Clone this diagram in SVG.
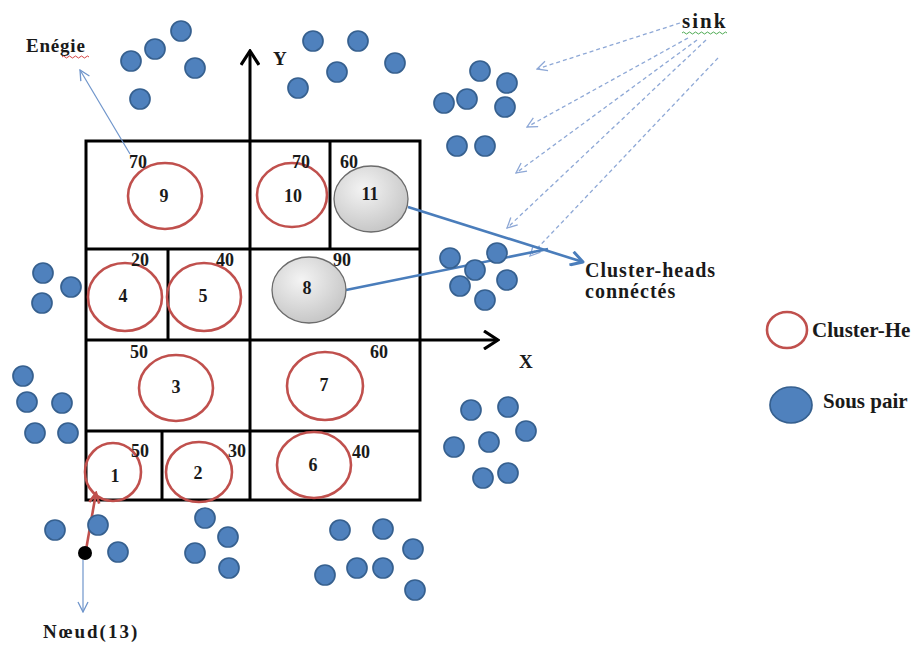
<svg xmlns="http://www.w3.org/2000/svg" width="915" height="645" viewBox="0 0 915 645">
  <style>
    .lbl { font-family: "Liberation Serif", "Times New Roman", serif; font-weight: bold; fill: #1a1a1a; }
    .num { font-size: 18px; text-anchor: middle; }
    .val { font-size: 18px; }
    .ch { fill: none; stroke: #C0504D; stroke-width: 2.6; }
    .gray { fill: url(#grayFill); stroke: #6b6b6b; stroke-width: 1.3; }
    .dot { fill: #4F81BD; stroke: #36608F; stroke-width: 1.7; }
    .grid { fill: none; stroke: #000; stroke-width: 3; }
    .thin { fill: none; stroke: #6F95CB; stroke-width: 1.2; }
    .dash { fill: none; stroke: #8EA8D6; stroke-width: 1.3; stroke-dasharray: 4 3; }
    .link { fill: none; stroke: #4A7DBB; stroke-width: 2.6; }
  </style>
  <defs>
    <radialGradient id="grayFill" cx="40%" cy="35%" r="70%">
      <stop offset="0" stop-color="#f4f4f4"/>
      <stop offset="1" stop-color="#c4c4c4"/>
    </radialGradient>
    <marker id="openThin" viewBox="0 0 12 12" refX="11" refY="6" markerWidth="12" markerHeight="12" markerUnits="userSpaceOnUse" orient="auto">
      <path d="M1,1 L11,6 L1,11" fill="none" stroke="#6F95CB" stroke-width="1.3"/>
    </marker>
    <marker id="openDash" viewBox="0 0 12 12" refX="11" refY="6" markerWidth="12" markerHeight="12" markerUnits="userSpaceOnUse" orient="auto">
      <path d="M1,1 L11,6 L1,11" fill="none" stroke="#8EA8D6" stroke-width="1.3"/>
    </marker>
    <marker id="openBlue" viewBox="0 0 16 16" refX="14" refY="8" markerWidth="16" markerHeight="16" markerUnits="userSpaceOnUse" orient="auto">
      <path d="M2,1 L14,8 L2,15" fill="none" stroke="#4A7DBB" stroke-width="3" stroke-linejoin="round"/>
    </marker>
    <marker id="openRed" viewBox="0 0 14 14" refX="12" refY="7" markerWidth="14" markerHeight="14" markerUnits="userSpaceOnUse" orient="auto">
      <path d="M2,2 L12,7 L2,12" fill="none" stroke="#C0504D" stroke-width="2.6"/>
    </marker>
    <marker id="axisHead" viewBox="0 0 18 20" refX="16" refY="10" markerWidth="18" markerHeight="20" markerUnits="userSpaceOnUse" orient="auto">
      <path d="M2,1 L16,10 L2,19" fill="none" stroke="#000" stroke-width="3.2" stroke-linejoin="miter"/>
    </marker>
  </defs>

  <!-- zone grid and axes -->
  <g id="grid">
    <rect class="grid" x="86" y="141" width="334" height="359"/>
    <line class="grid" x1="86" y1="249" x2="420" y2="249"/>
    <line class="grid" x1="86" y1="431" x2="420" y2="431"/>
    <line class="grid" x1="330" y1="141" x2="330" y2="249"/>
    <line class="grid" x1="168" y1="249" x2="168" y2="340"/>
    <line class="grid" x1="162" y1="431" x2="162" y2="500"/>
    <line class="grid" x1="250" y1="500" x2="250" y2="51" marker-end="url(#axisHead)"/>
    <line class="grid" x1="86" y1="340" x2="498" y2="340" marker-end="url(#axisHead)"/>
    <text class="lbl" x="273" y="65" font-size="19">Y</text>
    <text class="lbl" x="519" y="368" font-size="19">X</text>
  </g>

  <!-- connectors -->
  <g id="connectors">
    <line class="thin" x1="130" y1="154" x2="80" y2="70" marker-end="url(#openThin)"/>
    <line class="dash" x1="680" y1="23" x2="537" y2="69" marker-end="url(#openDash)"/>
    <line class="dash" x1="688" y1="38" x2="527" y2="127" marker-end="url(#openDash)"/>
    <line class="dash" x1="697" y1="40" x2="516" y2="173" marker-end="url(#openDash)"/>
    <line class="dash" x1="706" y1="40" x2="507" y2="228" marker-end="url(#openDash)"/>
    <line class="dash" x1="718" y1="58" x2="530" y2="256" marker-end="url(#openDash)"/>
    <line class="link" x1="408" y1="207" x2="583" y2="262" marker-end="url(#openBlue)"/>
    <line class="link" x1="346" y1="290" x2="548" y2="249"/>
    <line stroke="#C0504D" stroke-width="2.6" x1="86" y1="550" x2="96" y2="493" marker-end="url(#openRed)"/>
    <line class="thin" x1="83" y1="560" x2="83" y2="612" marker-end="url(#openThin)"/>
  </g>

  <!-- cluster zones -->
  <g id="node-9"><ellipse class="ch" cx="165" cy="196" rx="37" ry="33"/><text class="lbl num" x="164" y="202">9</text><text class="lbl val" x="129" y="168">70</text></g>
  <g id="node-10"><ellipse class="ch" cx="292" cy="195" rx="35" ry="32"/><text class="lbl num" x="293" y="202">10</text><text class="lbl val" x="292" y="168">70</text></g>
  <g id="node-11"><ellipse class="gray" cx="371" cy="199" rx="37" ry="33"/><text class="lbl num" x="370" y="200">11</text><text class="lbl val" x="340" y="168">60</text></g>
  <g id="node-4"><ellipse class="ch" cx="125" cy="297" rx="37" ry="34"/><text class="lbl num" x="123" y="302">4</text><text class="lbl val" x="131" y="266">20</text></g>
  <g id="node-5"><ellipse class="ch" cx="204" cy="297" rx="37" ry="34"/><text class="lbl num" x="203" y="302">5</text><text class="lbl val" x="216" y="266">40</text></g>
  <g id="node-8"><ellipse class="gray" cx="309" cy="290" rx="37" ry="33"/><text class="lbl num" x="307" y="294">8</text><text class="lbl val" x="333" y="266">90</text></g>
  <g id="node-3"><ellipse class="ch" cx="176" cy="388" rx="37" ry="33"/><text class="lbl num" x="176" y="393">3</text><text class="lbl val" x="130" y="358">50</text></g>
  <g id="node-7"><ellipse class="ch" cx="325" cy="386" rx="38" ry="34"/><text class="lbl num" x="324" y="391">7</text><text class="lbl val" x="370" y="358">60</text></g>
  <g id="node-1"><ellipse class="ch" cx="113" cy="472" rx="28" ry="29"/><text class="lbl num" x="115" y="482">1</text><text class="lbl val" x="131" y="457">50</text></g>
  <g id="node-2"><ellipse class="ch" cx="199" cy="472" rx="33" ry="30"/><text class="lbl num" x="198" y="479">2</text><text class="lbl val" x="228" y="457">30</text></g>
  <g id="node-6"><ellipse class="ch" cx="314" cy="465" rx="37" ry="33"/><text class="lbl num" x="313" y="471">6</text><text class="lbl val" x="352" y="458" font-size="20">40</text></g>

  <!-- member nodes -->
  <g id="members">
    <circle class="dot" cx="181" cy="31" r="10"/>
    <circle class="dot" cx="155" cy="49" r="10"/>
    <circle class="dot" cx="131" cy="61" r="10"/>
    <circle class="dot" cx="195" cy="68" r="10"/>
    <circle class="dot" cx="140" cy="99" r="10"/>
    <circle class="dot" cx="313" cy="41" r="10"/>
    <circle class="dot" cx="358" cy="41" r="10"/>
    <circle class="dot" cx="337" cy="72" r="10"/>
    <circle class="dot" cx="395" cy="63" r="10"/>
    <circle class="dot" cx="298" cy="88" r="10"/>
    <circle class="dot" cx="480" cy="71" r="10"/>
    <circle class="dot" cx="507" cy="83" r="10"/>
    <circle class="dot" cx="444" cy="103" r="10"/>
    <circle class="dot" cx="467" cy="99" r="10"/>
    <circle class="dot" cx="505" cy="107" r="10"/>
    <circle class="dot" cx="457" cy="146" r="10"/>
    <circle class="dot" cx="485" cy="146" r="10"/>
    <circle class="dot" cx="43" cy="273" r="10"/>
    <circle class="dot" cx="71" cy="287" r="10"/>
    <circle class="dot" cx="42" cy="303" r="10"/>
    <circle class="dot" cx="23" cy="376" r="10"/>
    <circle class="dot" cx="27" cy="402" r="10"/>
    <circle class="dot" cx="62" cy="403" r="10"/>
    <circle class="dot" cx="35" cy="433" r="10"/>
    <circle class="dot" cx="68" cy="433" r="10"/>
    <circle class="dot" cx="450" cy="258" r="10"/>
    <circle class="dot" cx="497" cy="253" r="10"/>
    <circle class="dot" cx="475" cy="270" r="10"/>
    <circle class="dot" cx="460" cy="286" r="10"/>
    <circle class="dot" cx="507" cy="280" r="10"/>
    <circle class="dot" cx="485" cy="300" r="10"/>
    <circle class="dot" cx="471" cy="410" r="10"/>
    <circle class="dot" cx="508" cy="407" r="10"/>
    <circle class="dot" cx="526" cy="431" r="10"/>
    <circle class="dot" cx="489" cy="442" r="10"/>
    <circle class="dot" cx="454" cy="447" r="10"/>
    <circle class="dot" cx="483" cy="478" r="10"/>
    <circle class="dot" cx="508" cy="473" r="10"/>
    <circle class="dot" cx="55" cy="530" r="10"/>
    <circle class="dot" cx="98" cy="525" r="10"/>
    <circle class="dot" cx="118" cy="552" r="10"/>
    <circle class="dot" cx="205" cy="518" r="10"/>
    <circle class="dot" cx="228" cy="537" r="10"/>
    <circle class="dot" cx="195" cy="553" r="10"/>
    <circle class="dot" cx="229" cy="568" r="10"/>
    <circle class="dot" cx="340" cy="530" r="10"/>
    <circle class="dot" cx="383" cy="529" r="10"/>
    <circle class="dot" cx="413" cy="549" r="10"/>
    <circle class="dot" cx="325" cy="575" r="10"/>
    <circle class="dot" cx="357" cy="568" r="10"/>
    <circle class="dot" cx="383" cy="568" r="10"/>
    <circle class="dot" cx="415" cy="590" r="10"/>
  </g>

  <!-- annotations -->
  <g id="energy-label">
    <text class="lbl" x="26" y="52" font-size="19" letter-spacing="0.8">Enégie</text>
    <path d="M62,57 q1.5,-2 3,0 t3,0 t3,0 t3,0 t3,0 t3,0 t3,0 t3,0 t3,0" fill="none" stroke="#d03030" stroke-width="0.9"/>
  </g>
  <g id="sink">
    <text class="lbl" x="682" y="28" font-size="21" letter-spacing="2">sink</text>
    <path d="M682,33 q1.5,-2 3,0 t3,0 t3,0 t3,0 t3,0 t3,0 t3,0 t3,0 t3,0 t3,0 t3,0 t3,0 t3,0 t3,0 t3,0" fill="none" stroke="#3aa040" stroke-width="0.9"/>
  </g>
  <g id="connected-heads-label">
    <text class="lbl" x="585" y="277" font-size="20" letter-spacing="1">Cluster-heads</text>
    <text class="lbl" x="585" y="298" font-size="20" letter-spacing="1">connéctés</text>
  </g>
  <g id="node-13">
    <circle cx="85" cy="553" r="7" fill="#000"/>
    <text class="lbl" x="43" y="638" font-size="19" letter-spacing="2">Nœud(13)</text>
  </g>

  <!-- legend -->
  <g id="legend-cluster-head">
    <ellipse class="ch" cx="787" cy="330" rx="20" ry="18"/>
    <text class="lbl" x="812" y="337" font-size="21">Cluster-He</text>
  </g>
  <g id="legend-member">
    <ellipse class="dot" cx="791" cy="405" rx="21" ry="18"/>
    <text class="lbl" x="823" y="408" font-size="21">Sous pair</text>
  </g>
</svg>
